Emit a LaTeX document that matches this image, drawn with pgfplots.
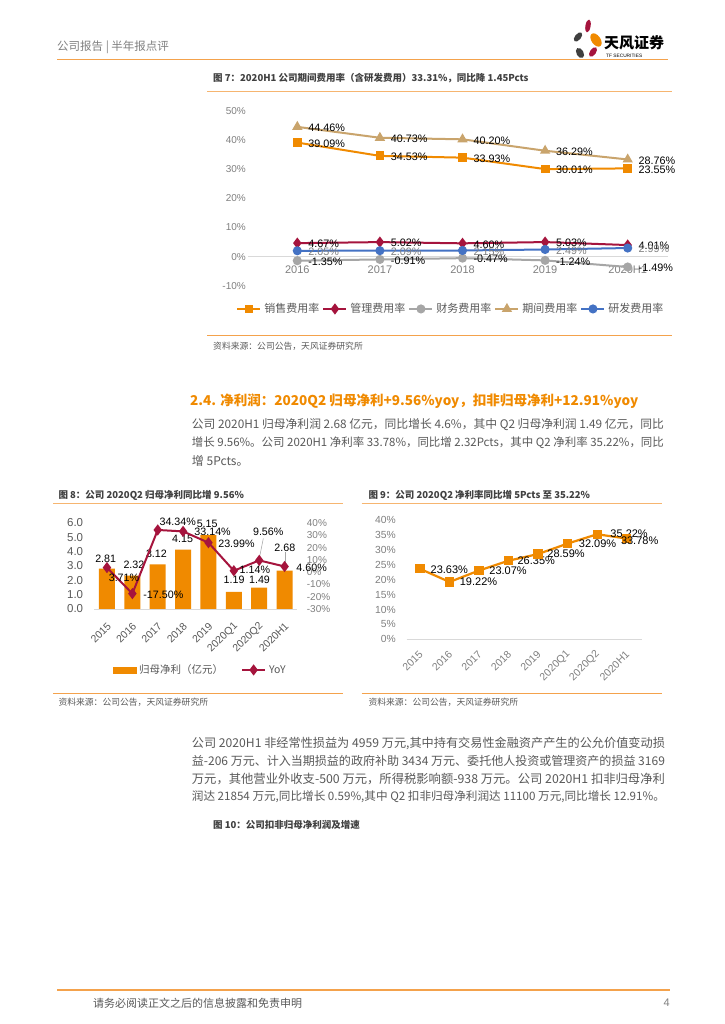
\documentclass[border=0pt]{standalone}
\usepackage{fontspec}
\setmainfont{Noto Sans CJK SC}
\newfontfamily\arial{Liberation Sans}
\usepackage{graphicx}
\usepackage{pgfplots}
\pgfplotsset{compat=1.18}
\pgfplotsset{/pgf/number format/assume math mode=true}

\definecolor{cOrange}{HTML}{F08A00}
\definecolor{cTan}{HTML}{C9A46C}
\definecolor{cRed}{HTML}{A5143D}
\definecolor{cGray}{HTML}{A6A6A6}
\definecolor{cBlue}{HTML}{4472C4}
\definecolor{cTick}{HTML}{808080}
\definecolor{cText}{HTML}{595959}
\definecolor{cTitle}{HTML}{404040}
\definecolor{cRule}{HTML}{F4A24C}
\definecolor{cZero}{HTML}{D9D9D9}
\definecolor{cLogo}{HTML}{3F3F3F}

\begin{document}
\begin{tikzpicture}[x=1pt,y=1pt]
\path[use as bounding box, fill=white] (0,0) rectangle (724,1024);

% ---------- page text, y measured from the top ----------
\begin{scope}[shift={(0,1024)}, y=-1pt]
  % header
  \node[anchor=west, inner sep=0pt, text=cTick, font=\fontsize{11.5}{13}\selectfont] at (57,47) {公司报告 | 半年报点评};
  \draw[cRule, line width=1.2pt] (57,59.5) -- (668,59.5);
  % logo
  \fill[cRed, rotate around={-10:(588,26)}] (588,26) ellipse (2.6 and 6.5);
  \fill[cLogo, rotate around={-40:(578,37)}] (578,37) ellipse (3 and 5.5);
  \fill[cOrange, rotate around={35:(596,40)}] (596,40) ellipse (4.5 and 7.5);
  \fill[cRed, rotate around={-35:(593,52)}] (593,52) ellipse (3 and 5.5);
  \fill[cLogo, rotate around={30:(580,53)}] (580,53) ellipse (3.5 and 5.5);
  \node[anchor=west, inner sep=0pt, font=\fontsize{15}{16}\selectfont\bfseries] at (604,43) {天风证券};
  \node[anchor=west, inner sep=0pt, font=\arial\fontsize{4.8}{5}\selectfont] at (606,55.5) {TF SECURITIES};

  % figure 7
  \node[anchor=west, inner sep=0pt, text=cTitle, font=\fontsize{9.5}{11}\selectfont\bfseries] at (213,78) {图 7：2020H1 公司期间费用率（含研发费用）33.31\%，同比降 1.45Pcts};
  \draw[cRule!80, line width=0.8pt] (207,91) -- (672,91);
  \draw[cRule, line width=1pt] (207,336) -- (672,336);
  \node[anchor=west, inner sep=0pt, text=cText, font=\fontsize{8.8}{10}\selectfont] at (213,346) {资料来源：公司公告，天风证券研究所};

  % section heading and paragraph
  \node[anchor=west, inner sep=0pt, text=cOrange, font=\fontsize{14.5}{16}\selectfont\bfseries] at (190,400.7) {\resizebox{448pt}{!}{2.4. 净利润：2020Q2 归母净利+9.56\%yoy，扣非归母净利+12.91\%yoy}};
  \begin{scope}[every node/.style={anchor=west, inner sep=0pt, text=cText, font=\fontsize{12}{14}\selectfont}]
    \node at (191.7,424.3) {\resizebox{472pt}{!}{公司 2020H1 归母净利润 2.68 亿元，同比增长 4.6\%，其中 Q2 归母净利润 1.49 亿元，同比}};
    \node at (191.7,442.7) {\resizebox{472pt}{!}{增长 9.56\%。公司 2020H1 净利率 33.78\%，同比增 2.32Pcts，其中 Q2 净利率 35.22\%，同比}};
    \node at (191.7,460.5) {增 5Pcts。};
  \end{scope}

  % figure 8 / 9 titles and rules
  \node[anchor=west, inner sep=0pt, text=cTitle, font=\fontsize{9.5}{11}\selectfont\bfseries] at (58.3,495) {图 8：公司 2020Q2 归母净利同比增 9.56\%};
  \node[anchor=west, inner sep=0pt, text=cTitle, font=\fontsize{9.5}{11}\selectfont\bfseries] at (368.3,495) {图 9：公司 2020Q2 净利率同比增 5Pcts 至 35.22\%};
  \draw[cRule!80, line width=0.8pt] (53.3,503.3) -- (343.3,503.3);
  \draw[cRule!80, line width=0.8pt] (361.7,503.3) -- (661.7,503.3);
  \draw[cRule, line width=1pt] (53.3,693.3) -- (343.3,693.3);
  \draw[cRule, line width=1pt] (361.7,693.3) -- (661.7,693.3);
  \node[anchor=west, inner sep=0pt, text=cText, font=\fontsize{8.8}{10}\selectfont] at (58.3,702) {资料来源：公司公告，天风证券研究所};
  \node[anchor=west, inner sep=0pt, text=cText, font=\fontsize{8.8}{10}\selectfont] at (368.3,702) {资料来源：公司公告，天风证券研究所};
  % leader lines in figure 8
  \draw[cTick!70, line width=0.5pt] (263.3,538.5) -- (259.6,557);
  \draw[cTick!70, line width=0.5pt] (285,552.5) -- (285,565);

  % second paragraph
  \begin{scope}[every node/.style={anchor=west, inner sep=0pt, text=cText, font=\fontsize{12}{14}\selectfont}]
    \node at (191.7,743) {\resizebox{473pt}{!}{公司 2020H1 非经常性损益为 4959 万元,其中持有交易性金融资产产生的公允价值变动损}};
    \node at (191.7,761) {\resizebox{473pt}{!}{益-206 万元、计入当期损益的政府补助 3434 万元、委托他人投资或管理资产的损益 3169}};
    \node at (191.7,779) {\resizebox{473pt}{!}{万元，其他营业外收支-500 万元，所得税影响额-938 万元。公司 2020H1 扣非归母净利}};
    \node at (191.7,797) {\resizebox{473pt}{!}{润达 21854 万元,同比增长 0.59\%,其中 Q2 扣非归母净利润达 11100 万元,同比增长 12.91\%。}};
  \end{scope}
  \node[anchor=west, inner sep=0pt, text=cTitle, font=\fontsize{9.5}{11}\selectfont\bfseries] at (213,825) {图 10：公司扣非归母净利润及增速};

  % footer
  \draw[cRule, line width=1.5pt] (57,990) -- (670,990);
  \node[anchor=west, inner sep=0pt, text=cText, font=\fontsize{11}{13}\selectfont] at (93,1003) {请务必阅读正文之后的信息披露和免责申明};
  \node[anchor=east, inner sep=0pt, text=cTick, font=\arial\fontsize{11}{13}\selectfont] at (670,1003) {4};
\end{scope}

% ---------- figure 7: expense ratios ----------
\begin{axis}[
  at={(248pt,738pt)}, anchor=south west, scale only axis,
  width=420pt, height=175.3pt,
  xmin=-0.597, xmax=4.488, ymin=-10, ymax=50,
  axis line style={draw=none}, major tick length=0pt,
  xtick={0,1,2,3,4}, xticklabels={2016,2017,2018,2019,2020H1},
  ytick={-10,0,10,20,30,40,50},
  yticklabel={\pgfmathprintnumber{\tick}\%},
  xticklabel style={anchor=center, inner sep=0pt, yshift=16pt, font=\arial\fontsize{11}{12}\selectfont, text=cTick},
  yticklabel style={anchor=east, inner sep=0pt, xshift=-2pt, font=\arial\fontsize{10}{12}\selectfont, text=cTick},
  extra y ticks={0}, extra y tick labels={},
  extra y tick style={grid=major},
  major grid style={draw=cZero, line width=0.8pt},
  clip=false,
  point meta=explicit symbolic,
  nodes near coords={\pgfplotspointmeta\%},
  every node near coord/.append style={font=\arial\fontsize{10.8}{12}\selectfont, text=black, anchor=west, inner sep=0pt, xshift=10pt, yshift=-1pt},
  legend columns=5,
  legend style={at={(0.482,-0.131)}, anchor=center, draw=none, fill=none,
    font=\fontsize{11}{13}\selectfont, text=cText, column sep=2pt, nodes={inner sep=1pt}},
  legend image code/.code={\draw[mark repeat=2,mark phase=2,#1] plot coordinates {(0pt,0pt) (11.5pt,0pt) (23pt,0pt)};},
]
\addplot[cOrange, line width=2pt, mark=square*, mark size=3.4pt] table[x=x,y=y,meta=lab]{
x y lab
0 39.09 39.09
1 34.53 34.53
2 33.93 33.93
3 30.01 30.01
4 30.25 23.55
};
\addlegendentry{销售费用率}
\addplot[cRed, line width=2pt, mark=diamond*, mark size=4pt] table[x=x,y=y,meta=lab]{
x y lab
0 4.67 4.67
1 5.02 5.02
2 4.60 4.60
3 5.03 5.03
4 4.01 4.01
};
\addlegendentry{管理费用率}
\addplot[cGray, line width=2pt, mark=*, mark size=3.5pt] table[x=x,y=y,meta=lab]{
x y lab
0 -1.35 -1.35
1 -0.91 -0.91
2 -0.47 -0.47
3 -1.24 -1.24
4 -3.50 -1.49
};
\addlegendentry{财务费用率}
\addplot[cTan, line width=2pt, mark=triangle*, mark size=4pt] table[x=x,y=y,meta=lab]{
x y lab
0 44.46 44.46
1 40.73 40.73
2 40.20 40.20
3 36.29 36.29
4 33.31 28.76
};
\addlegendentry{期间费用率}
\addplot[cBlue, line width=2pt, mark=*, mark size=3.5pt,
  every node near coord/.append style={text=cTick}] table[x=x,y=y,meta=lab]{
x y lab
0 2.05 2.05
1 2.09 2.09
2 2.15 2.15
3 2.49 2.49
4 2.99 2.99
};
\addlegendentry{研发费用率}
\end{axis}

% ---------- figure 8: net profit bars ----------
\begin{axis}[
  at={(94.3pt,415pt)}, anchor=south west, scale only axis,
  width=203pt, height=86pt,
  xmin=-0.5, xmax=7.5, ymin=0, ymax=6,
  axis x line*=bottom, axis y line*=left,
  x axis line style={draw=cZero, line width=0.8pt, -}, y axis line style={draw=none},
  major tick length=0pt,
  xtick={0,...,7}, xticklabels={2015,2016,2017,2018,2019,2020Q1,2020Q2,2020H1},
  ytick={0,1,...,6},
  yticklabel={\pgfmathprintnumber[fixed,fixed zerofill,precision=1]{\tick}},
  yticklabel style={anchor=east, inner sep=0pt, xshift=-11pt, font=\arial\fontsize{11.5}{12}\selectfont, text=cText},
  xticklabel style={xshift=2.3pt, yshift=-15.3pt, rotate=45, anchor=east, inner sep=0pt, font=\arial\fontsize{10.5}{12}\selectfont, text=cText},
  clip=false,
]
\addplot[ybar, bar width=16pt, bar shift=0pt, fill=cOrange, draw=none,
  point meta=explicit symbolic, nodes near coords,
  visualization depends on={value \thisrow{dx}\as\dx},
  visualization depends on={value \thisrow{dy}\as\dy},
  every node near coord/.append style={anchor=center, inner sep=0pt, xshift=\dx pt, yshift=\dy pt, font=\arial\fontsize{10.7}{12}\selectfont, text=black}]
  table[x=x,y=y,meta=lab]{
x y lab dx dy
0 2.81 2.81 -1.3 10
1 2.32 2.32 1.6 10.5
2 3.12 3.12 -1.3 10.3
3 4.15 4.15 -0.5 10.2
4 5.15 5.15 -1.3 11
5 1.19 1.19 0.3 12
6 1.49 1.49 0.3 7.6
7 2.68 2.68 0.3 23
};
\end{axis}

\begin{axis}[
  at={(94.3pt,415pt)}, anchor=south west, scale only axis,
  width=203pt, height=86pt,
  xmin=-0.5, xmax=7.5, ymin=-30, ymax=40,
  axis x line=none, xtick=\empty, axis y line*=right, y axis line style={draw=none},
  major tick length=0pt,
  ytick={-30,-20,...,40},
  yticklabel={\pgfmathprintnumber{\tick}\%},
  yticklabel style={anchor=west, inner sep=0pt, xshift=9.4pt, font=\arial\fontsize{10}{12}\selectfont, text=cTick},
  clip=false,
  legend columns=2,
  legend style={at={(0.519,-0.709)}, anchor=center, draw=none, fill=none,
    font=\fontsize{10.5}{12}\selectfont, text=cText, column sep=2pt, nodes={inner sep=1pt},
    /tikz/every even column/.append style={column sep=17pt}},
  legend image code/.code={\draw[mark repeat=2,mark phase=2,#1] plot coordinates {(0pt,0pt) (11.5pt,0pt) (23pt,0pt)};},
]
\addlegendimage{legend image code/.code={\fill[cOrange] (0pt,-3pt) rectangle (23pt,3pt);}}
\addlegendentry{归母净利（亿元）}
\addplot[cRed, line width=2pt, mark=diamond*, mark size=4pt,
  point meta=explicit symbolic, nodes near coords={\pgfplotspointmeta\%},
  visualization depends on={value \thisrow{dx}\as\dx},
  visualization depends on={value \thisrow{dy}\as\dy},
  every node near coord/.append style={anchor=center, inner sep=0pt, xshift=\dx pt, yshift=\dy pt, font=\arial\fontsize{10.7}{12}\selectfont, text=black}]
  table[x=x,y=y,meta=lab]{
x y lab dx dy
0 3.71 3.71 17 -9.8
1 -17.50 -17.50 31 -1.4
2 34.34 34.34 20 8.2
3 33.14 33.14 29.5 0
4 23.99 23.99 28 -0.7
5 1.14 1.14 21 1.4
6 9.56 9.56 9 28.7
7 4.60 4.60 27 -1
};
\addlegendentry{YoY}
\end{axis}

% ---------- figure 9: net margin ----------
\begin{axis}[
  at={(406.7pt,384.7pt)}, anchor=south west, scale only axis,
  width=235pt, height=119.3pt,
  xmin=-0.45, xmax=7.51, ymin=0, ymax=40,
  axis x line*=bottom, axis y line*=left,
  x axis line style={draw=cZero, line width=0.8pt, -}, y axis line style={draw=none},
  major tick length=0pt,
  xtick={0,...,7}, xticklabels={2015,2016,2017,2018,2019,2020Q1,2020Q2,2020H1},
  ytick={0,5,...,40},
  yticklabel={\pgfmathprintnumber{\tick}\%},
  yticklabel style={anchor=east, inner sep=0pt, xshift=-10.7pt, font=\arial\fontsize{10.3}{12}\selectfont, text=cTick},
  xticklabel style={xshift=1pt, yshift=-13.4pt, rotate=45, anchor=east, inner sep=0pt, font=\arial\fontsize{10.5}{12}\selectfont, text=cTick},
  clip=false,
]
\addplot[cOrange, line width=2.2pt, mark=square*, mark size=3.5pt,
  point meta=explicit symbolic, nodes near coords={\pgfplotspointmeta\%},
  visualization depends on={value \thisrow{dx}\as\dx},
  visualization depends on={value \thisrow{dy}\as\dy},
  every node near coord/.append style={anchor=center, inner sep=0pt, xshift=\dx pt, yshift=\dy pt, font=\arial\fontsize{11}{12}\selectfont, text=black}]
  table[x=x,y=y,meta=lab]{
x y lab dx dy
0 23.63 23.63 29.3 -0.4
1 19.22 19.22 29 0
2 23.07 23.07 29 -0.2
3 26.35 26.35 27.7 0
4 28.59 28.59 28 0
5 32.09 32.09 30 0.3
6 35.22 35.22 32 0.9
7 33.78 33.78 13 -2
};
\end{axis}
\end{tikzpicture}
\end{document}
